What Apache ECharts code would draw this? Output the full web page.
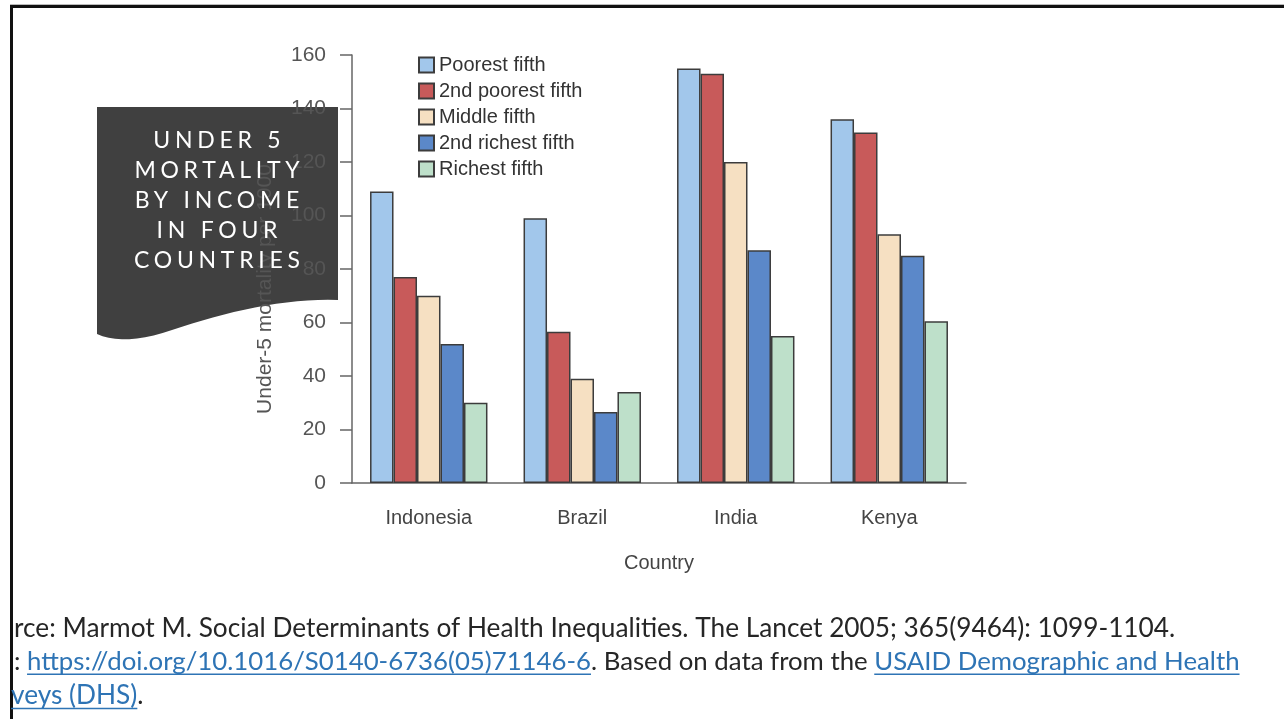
<!DOCTYPE html>
<html>
<head>
<meta charset="utf-8">
<style>
  html, body { margin: 0; padding: 0; background: #fff; }
  #chart { width: 1284px; height: 719px; }
</style>
<script src="https://cdn.jsdelivr.net/npm/echarts@6/dist/echarts.min.js"></script>
</head>
<body>
<div id="chart"></div>
<script>
// data
const countries = ['Indonesia', 'Brazil', 'India', 'Kenya'];
const fifths = ['Poorest fifth', '2nd poorest fifth', 'Middle fifth', '2nd richest fifth', 'Richest fifth'];
const poorest = [109, 99, 155, 136];
const poorer = [77, 56.5, 153, 131];
const middle = [70, 39, 120, 93];
const richer = [52, 26.5, 87, 85];
const richest = [30, 34, 55, 60.5];
const colors = ['#a2c7eb', '#c85a5a', '#f6e0c2', '#5b88c9', '#bee0ca'];

const titleLines = ['UNDER 5', 'MORTALITY', 'BY INCOME', 'IN FOUR', 'COUNTRIES'];
const sourceLine1 = 'rce: Marmot M. Social Determinants of Health Inequalities. The Lancet 2005; 365(9464): 1099-1104.';
const doiLink = 'https://doi.org/10.1016/S0140-6736(05)71146-6';
const basedOn = '. Based on data from the ';
const dhsLink1 = 'USAID Demographic and Health';
const dhsLink2 = 'veys (DHS)';

const chartFont = "'Liberation Sans', Arial, sans-serif";

// text measuring for the slide text below the chart
const mctx = document.createElement('canvas').getContext('2d');
const measure = (s, font) => {
  mctx.font = font;
  return mctx.measureText(s).width;
};
// font size that makes a line as wide as in the picture
const fitSize = (s, width) => 22 * width / measure(s, '22px Lato');

const linkColor = '#2e74b5';
const textColor = '#262626';

const srcGraphics = [];
const addText = (text, x, y, color, size, link) => {
  const font = `${size}px Lato`;
  const w = measure(text, font);
  srcGraphics.push({
    type: 'text',
    x: x,
    y: y,
    style: { text, fill: color, font, verticalAlign: 'middle' }
  });
  if (link) {
    srcGraphics.push({
      type: 'rect',
      shape: { x, y: y + size * 0.45, width: w, height: 1.5 },
      style: { fill: color }
    });
  }
  return x + w;
};
const size1 = fitSize(sourceLine1, 1162);
const size2 = fitSize(': ' + doiLink + basedOn + dhsLink1, 1226);
addText(sourceLine1, 14, 629, textColor, size1);
let cx = addText(': ', 14, 662, textColor, size2);
cx = addText(doiLink, cx, 662, linkColor, size2, true);
cx = addText(basedOn, cx, 662, textColor, size2);
addText(dhsLink1, cx, 662, linkColor, size2, true);
cx = addText(dhsLink2, 11, 696, linkColor, size1, true);
addText('.', cx, 696, textColor, size1);

// wavy slide box outline (decoration)
const bez = (p0, p1, p2, p3, n) => {
  const pts = [];
  for (let i = 1; i <= n; i++) {
    const t = i / n, u = 1 - t;
    pts.push([
      u * u * u * p0[0] + 3 * u * u * t * p1[0] + 3 * u * t * t * p2[0] + t * t * t * p3[0],
      u * u * u * p0[1] + 3 * u * u * t * p1[1] + 3 * u * t * t * p2[1] + t * t * t * p3[1]
    ]);
  }
  return pts;
};
const boxPoints = [[97, 107], [338, 107], [338, 300]]
  .concat(bez([338, 300], [285, 298], [225, 312], [172, 330], 16))
  .concat(bez([172, 330], [140, 341], [115, 342], [97, 334], 10));

// title box text spacing
const titleFont = '23px Lato';
const spacing = Math.max(0, (166 - measure('COUNTRIES', titleFont)) / 8);

const myChart = echarts.init(document.querySelector('#chart'));

const seriesData = [poorest, poorer, middle, richer, richest];

const option = {
  animation: false,
  textStyle: { fontFamily: chartFont },
  color: colors,
  legend: {
    orient: 'vertical',
    left: 413,
    top: 50,
    itemWidth: 15,
    itemHeight: 15,
    itemGap: 6,
    icon: 'rect',
    data: fifths,
    textStyle: { fontSize: 20, color: '#333', fontFamily: chartFont }
  },
  grid: {
    left: 352,
    top: 55,
    width: 614,
    bottom: 236,
    containLabel: false
  },
  xAxis: {
    type: 'category',
    data: countries,
    name: 'Country',
    nameLocation: 'middle',
    nameGap: 70,
    nameTextStyle: { fontSize: 20, color: '#444' },
    axisLine: { lineStyle: { color: '#666', width: 1.5 } },
    axisTick: { show: false },
    axisLabel: { fontSize: 20, color: '#444', margin: 25 }
  },
  yAxis: {
    type: 'value',
    min: 0,
    max: 160,
    interval: 20,
    name: 'Under-5 mortality per 1000',
    nameLocation: 'middle',
    nameGap: 76,
    nameTextStyle: { fontSize: 21, color: '#555', padding: [0, 40, 0, 0] },
    axisLine: { show: true, lineStyle: { color: '#666', width: 1.5 } },
    axisTick: { show: true, length: 12, lineStyle: { color: '#666', width: 1.5 } },
    axisLabel: { fontSize: 21, color: '#555', margin: 26 },
    splitLine: { show: false }
  },
  series: fifths.map((name, i) => ({
    name,
    type: 'bar',
    data: seriesData[i],
    barGap: '0%',
    barCategoryGap: '23.5%',
    itemStyle: { color: colors[i], borderColor: '#3c3c3c', borderWidth: 1.5 }
  })),
  graphic: [
    // slide frame
    { type: 'rect', shape: { x: 10, y: 4, width: 1274, height: 1 }, style: { fill: '#bbb' } },
    { type: 'rect', shape: { x: 10, y: 5, width: 1274, height: 3 }, style: { fill: '#111' } },
    { type: 'rect', shape: { x: 10, y: 5, width: 3, height: 714 }, style: { fill: '#111' } },
    // title box
    {
      type: 'polygon',
      z: -1,
      shape: { points: boxPoints },
      style: { fill: '#404040' }
    },
    {
      type: 'text',
      zlevel: 2,
      x: 217 + spacing / 2,
      y: 126,
      style: {
        text: titleLines.join('\n'),
        font: titleFont,
        fill: '#fff',
        align: 'center',
        verticalAlign: 'top',
        lineHeight: 30
      }
    },
    ...srcGraphics
  ]
};

myChart.setOption(option);

// letter spacing for the title, drawn on its own layer
try {
  const zr = myChart.getZr();
  const layer = zr.painter.getLayer(2);
  if (layer && layer.ctx && 'letterSpacing' in layer.ctx) {
    layer.ctx.letterSpacing = spacing + 'px';
    zr.painter.refresh(true);
  }
} catch (e) {
  console.log(e);
}

window.addEventListener('resize', function() {
  myChart.resize();
});
</script>
</body>
</html>
